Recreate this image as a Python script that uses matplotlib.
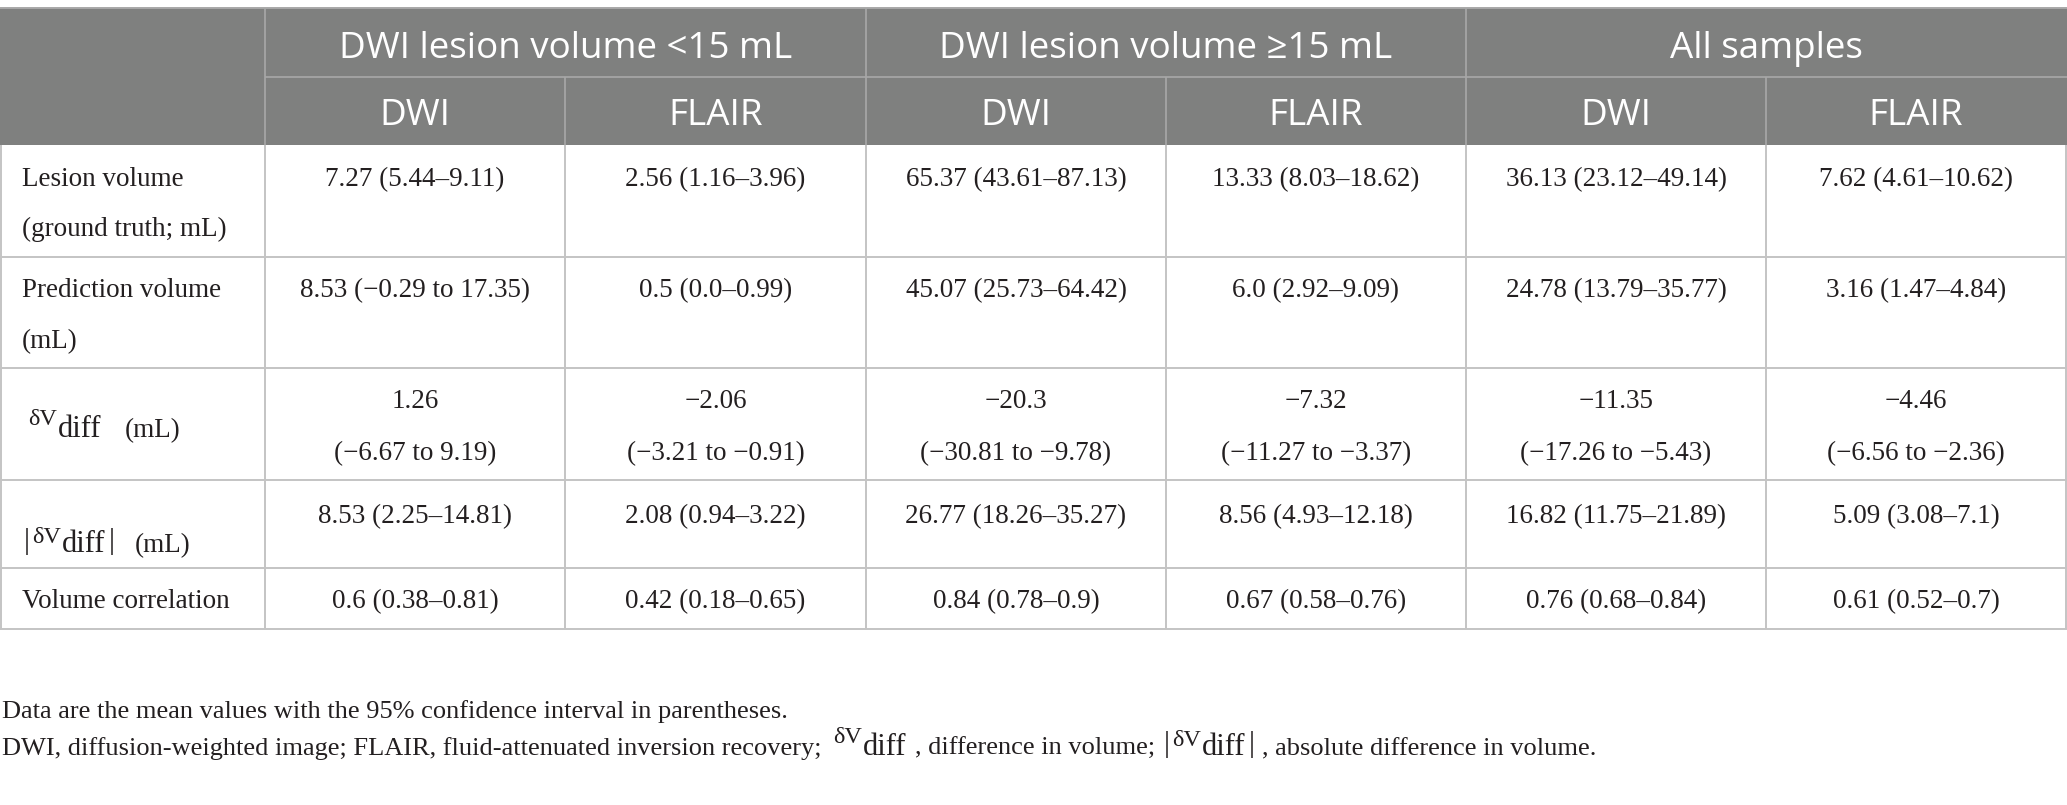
import matplotlib
matplotlib.use('Agg')
import matplotlib.pyplot as plt
from matplotlib.patches import Rectangle

# table content
group_labels = ['DWI lesion volume <15 mL', 'DWI lesion volume \u226515 mL', 'All samples']
sub_labels = ['DWI', 'FLAIR', 'DWI', 'FLAIR', 'DWI', 'FLAIR']

row_labels = ['Lesion volume\n(ground truth; mL)',
              'Prediction volume\n(mL)',
              '\u03b4Vdiff (mL)',
              '|\u03b4Vdiff| (mL)',
              'Volume correlation']

lesion_volume = ['7.27 (5.44\u20139.11)', '2.56 (1.16\u20133.96)', '65.37 (43.61\u201387.13)',
                 '13.33 (8.03\u201318.62)', '36.13 (23.12\u201349.14)', '7.62 (4.61\u201310.62)']
prediction_volume = ['8.53 (\u22120.29 to 17.35)', '0.5 (0.0\u20130.99)', '45.07 (25.73\u201364.42)',
                     '6.0 (2.92\u20139.09)', '24.78 (13.79\u201335.77)', '3.16 (1.47\u20134.84)']
dv_diff = ['1.26\n(\u22126.67 to 9.19)', '\u22122.06\n(\u22123.21 to \u22120.91)',
           '\u221220.3\n(\u221230.81 to \u22129.78)', '\u22127.32\n(\u221211.27 to \u22123.37)',
           '\u221211.35\n(\u221217.26 to \u22125.43)', '\u22124.46\n(\u22126.56 to \u22122.36)']
abs_dv_diff = ['8.53 (2.25\u201314.81)', '2.08 (0.94\u20133.22)', '26.77 (18.26\u201335.27)',
               '8.56 (4.93\u201312.18)', '16.82 (11.75\u201321.89)', '5.09 (3.08\u20137.1)']
volume_corr = ['0.6 (0.38\u20130.81)', '0.42 (0.18\u20130.65)', '0.84 (0.78\u20130.9)',
               '0.67 (0.58\u20130.76)', '0.76 (0.68\u20130.84)', '0.61 (0.52\u20130.7)']
rows = [lesion_volume, prediction_volume, dv_diff, abs_dv_diff, volume_corr]

footnote_1 = 'Data are the mean values with the 95% confidence interval in parentheses.'
footnote_2 = ['DWI, diffusion-weighted image; FLAIR, fluid-attenuated inversion recovery;',
              '\u03b4Vdiff', ', difference in volume;', '|\u03b4Vdiff|', ', absolute difference in volume.']

# layout in pixels
col_x = [1, 265, 565, 866, 1166, 1466, 1766, 2066]
row_y = [8, 77, 145, 257, 368, 480, 568, 629]
label_base = [[186, 236], [297, 348], [437], [552], [608]]
value_base = [[186, 236], [297, 348], [408, 460], [523], [608]]
unit_x = [0, 0, 125, 135, 0]

header_bg = '#7f807f'
header_line = '#a8a8a8'
grid = '#c4c4c4'
ink = '#231f20'
serif = 'Liberation Serif'
sans = 'Open Sans'
body_fs = 19.5
note_fs = 19.0
head_fs = 26.5

fig = plt.figure(figsize=(20.67, 8.05), dpi=100)
ax = fig.add_axes([0, 0, 1, 1])
ax.set_xlim(0, 2067)
ax.set_ylim(805, 0)
ax.axis('off')
renderer = fig.canvas.get_renderer()


def put(x, y, s, fs, **kw):
    t = ax.text(x, y, s, fontsize=fs, family=serif, color=ink, ha='left', va='baseline', **kw)
    return t.get_window_extent(renderer=renderer).width


def draw_dv(x, y, absolute=False):
    # δV raised a little, "diff" larger on the baseline, optional tall bars
    if absolute:
        ax.vlines(x, y - 24, y + 3, color=ink, lw=1.1)
        x += 5
        x += put(x, y - 9, '\u03b4V', 17.5) + 1
    else:
        x += put(x, y - 12, '\u03b4V', 17.5) + 1
    x += put(x, y, 'diff', 22)
    if absolute:
        x += 7
        ax.vlines(x, y - 24, y + 3, color=ink, lw=1.1)
        x += 2
    return x


# header block
ax.add_patch(Rectangle((0, row_y[0]), 2067, row_y[2] - row_y[0], color=header_bg, lw=0))
ax.hlines(row_y[0], 0, 2067, color=header_line, lw=1.4)
ax.hlines(row_y[1], col_x[1], 2067, color=header_line, lw=1.2)
for i in [1, 3, 5]:
    ax.vlines(col_x[i], row_y[0], row_y[2], color=header_line, lw=1.2)
for i in [2, 4, 6]:
    ax.vlines(col_x[i], row_y[1], row_y[2], color=header_line, lw=1.2)

for g, name in enumerate(group_labels):
    xc = (col_x[1 + 2 * g] + col_x[3 + 2 * g]) / 2
    ax.text(xc, 58, name, color='white', fontsize=head_fs, family=sans,
            ha='center', va='baseline')
for j, name in enumerate(sub_labels):
    xc = (col_x[1 + j] + col_x[2 + j]) / 2
    ax.text(xc, 125, name, color='white', fontsize=head_fs, family=sans,
            ha='center', va='baseline')

# body grid
for y in row_y[3:]:
    ax.hlines(y, 0, 2067, color=grid, lw=1.4)
for x in col_x:
    ax.vlines(x, row_y[2], row_y[-1], color=grid, lw=1.4)

for r, vals in enumerate(rows):
    lab = row_labels[r]
    if '\u03b4V' in lab:
        absolute = lab.startswith('|')
        draw_dv(27 if absolute else 28, label_base[r][0], absolute)
        put(unit_x[r], label_base[r][0], lab.split(' ')[-1], body_fs)
    else:
        for k, line in enumerate(lab.split('\n')):
            put(22, label_base[r][k], line, body_fs)
    for j, v in enumerate(vals):
        xc = (col_x[1 + j] + col_x[2 + j]) / 2
        for k, line in enumerate(v.split('\n')):
            ax.text(xc, value_base[r][k], line, fontsize=body_fs, family=serif, color=ink,
                    ha='center', va='baseline')

# footnotes
put(2, 718, footnote_1, note_fs)
x = 2
for piece in footnote_2:
    if '\u03b4V' in piece:
        x = draw_dv(x + 12, 755, piece.startswith('|')) + 8
    else:
        x += put(x, 755, piece, note_fs)

fig.savefig('out.png', dpi=100, facecolor='white')
